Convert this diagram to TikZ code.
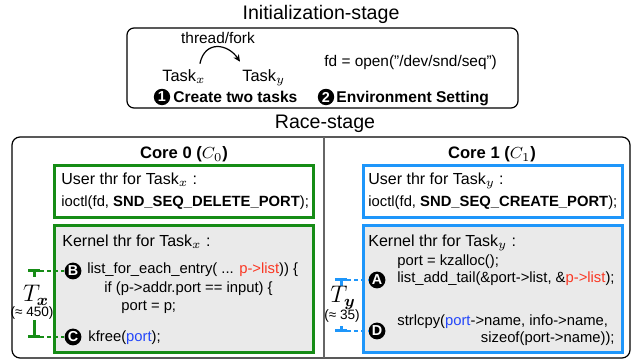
\documentclass[tikz,border=0pt]{standalone}
\usepackage{fontspec}
\usepackage{bm}
\setmainfont{Liberation Sans}
\usetikzlibrary{arrows.meta,positioning}
\definecolor{cgreen}{RGB}{22,140,22}
\definecolor{cblue}{RGB}{30,150,250}
\definecolor{cred}{RGB}{250,55,35}
\definecolor{cport}{RGB}{35,70,250}
\definecolor{kgray}{RGB}{234,234,234}
\newcommand{\fsz}[1]{\fontsize{#1}{#1}\selectfont}
\begin{document}
\begin{tikzpicture}[x=0.5pt,y=-0.5pt,
  every node/.style={inner sep=0pt},
  stage/.style={font=\fsz{9.8},anchor=base},
  txt/.style={font=\fsz{7.7},anchor=base west},
  head/.style={font=\fsz{8},anchor=base west},
  code/.style={font=\fsz{7.4},anchor=base west},
  badge/.style={circle,fill=black,text=white,minimum size=8.4pt,font=\bfseries\fsz{7.2}},
  ubox/.style={draw=#1,line width=1.5pt},
  kbox/.style={draw=#1,line width=1.5pt,fill=kgray},
  tbar/.style={draw=#1,line width=1.5pt},
  tdash/.style={draw=#1,line width=0.6pt,dash pattern=on 2pt off 1.5pt},
  tlab/.style={font=\fsz{11.5},anchor=base},
  tnum/.style={font=\fsz{6.8},anchor=base}]
  \useasboundingbox (0,0) rectangle (632,362);
  % initialization stage
  \node[stage] (init) at (321,20) {Initialization-stage};
  \draw[line width=0.6pt,rounded corners=3.5pt] (127,28) rectangle (518,108);
  \node[txt,anchor=base] (fork) at (218,44) {thread/fork};
  \node[txt,font=\fsz{8.2}] (tx) at (162,82) {Task$_x$};
  \node[txt,font=\fsz{8.2}] (ty) at (242,82) {Task$_y$};
  \draw[-{Stealth[length=3.5pt,width=3.2pt]},line width=0.6pt]
    ([shift={(-3pt,3pt)}]tx.north east) .. controls +(5,-24) and +(-12,-18) .. ([shift={(-1pt,4pt)}]ty.north west);
  \node[txt] (fd) at (324,67) {fd = open("/dev/snd/seq")};
  \node[badge,minimum size=8.2pt] (n1) at (162,97) {1};
  \node[txt,font=\bfseries\fsz{7.8}] (s1) at (173,103) {Create two tasks};
  \node[badge,minimum size=8.2pt] (n2) at (326,97) {2};
  \node[txt,font=\bfseries\fsz{7.8}] (s2) at (336,103) {Environment Setting};
  % race stage
  \node[stage] (race) at (325,129) {Race-stage};
  \draw[line width=0.6pt,rounded corners=4pt] (12,137) rectangle (630,358);
  \draw[line width=0.6pt,black!60] (324,137) -- (324,358);
  % core 0
  \node[stage,font=\bfseries\fsz{8.3}] (core0) at (184,159) {Core 0 ($C_0$)};
  \draw[ubox=cgreen] (54,166) rectangle (313,218);
  \node[head] (ux) at (61,185) {User thr for Task$_x$ :};
  \node[code] (cx1) at (61,207) {ioctl(fd, \textbf{SND\_SEQ\_DELETE\_PORT});};
  \draw[kbox=cgreen] (54,226) rectangle (313,353);
  \node[head] (kx) at (62,247) {Kernel thr for Task$_x$ :};
  \node[badge] (kb) at (73,271) {B};
  \node[code] (kx1) at (87,274) {list\_for\_each\_entry( ... \textcolor{cred}{p->list})) \{};
  \node[code] (kx2) at (104,293) {if (p->addr.port == input) \{};
  \node[code] (kx3) at (121,311) {port = p;};
  \node[badge] (kc) at (73,337) {C};
  \node[code] (kx4) at (88,342) {kfree(\textcolor{cport}{port});};
  % core 1
  \node[stage,font=\bfseries\fsz{8.3}] (core1) at (492,159) {Core 1 ($C_1$)};
  \draw[ubox=cblue] (363,166) rectangle (622,218);
  \node[head] (uy) at (368,185) {User thr for Task$_y$ :};
  \node[code] (cy1) at (368,207) {ioctl(fd, \textbf{SND\_SEQ\_CREATE\_PORT});};
  \draw[kbox=cblue] (363,226) rectangle (622,353);
  \node[head] (ky) at (368,247) {Kernel thr for Task$_y$ :};
  \node[code] (ky1) at (397,266) {port = kzalloc();};
  \node[badge] (ka) at (377,280) {A};
  \node[code] (ky2) at (397,283) {list\_add\_tail(\&port->list, \&\textcolor{cred}{p->list});};
  \node[badge] (kd) at (377,331) {D};
  \node[code] (ky3) at (397,326) {strlcpy(\textcolor{cport}{port}->name, info->name,};
  \node[code,anchor=base east] (ky4) at (615,343) {sizeof(port->name));};
  % windows
  \coordinate (bx) at (40,271);
  \coordinate (cx) at (40,337);
  \draw[tbar=cgreen] (28,271) -- (40,271) (34,271) -- (34,277);
  \draw[tbar=cgreen] (28,337) -- (40,337) (34,337) -- (34,320);
  \draw[tdash=cgreen] (bx) -- (kb);
  \draw[tdash=cgreen] (cx) -- (kc);
  \node[tlab] (tlx) at (36,302) {$T_{\bm{x}}$};
  \node[tnum] (nlx) at (32,317) {(≈ 450)};
  \coordinate (ay) at (347,280);
  \coordinate (dy) at (347,331);
  \draw[tbar=cblue] (335,280) -- (347,280) (341,280) -- (341,286);
  \draw[tbar=cblue] (335,331) -- (347,331) (341,331) -- (341,326);
  \draw[tdash=cblue] (ay) -- (ka);
  \draw[tdash=cblue] (dy) -- (kd);
  \node[tlab] (tly) at (343,303) {$T_{\bm{y}}$};
  \node[tnum] (nly) at (342,320) {(≈ 35)};
\end{tikzpicture}
\end{document}
